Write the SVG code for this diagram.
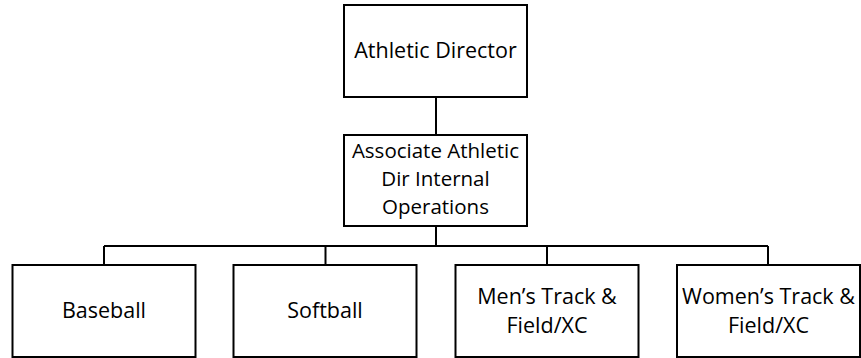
<svg xmlns="http://www.w3.org/2000/svg" width="861" height="358" viewBox="0 0 861 358">
<style>
.box{fill:#fff;stroke:#000;stroke-width:2}
.con{fill:none;stroke:#000;stroke-width:2}
text{font-family:"Open Sans","Noto Sans",sans-serif;font-size:21.5px;fill:#000;text-anchor:middle}
text.m{font-size:20.5px}
</style>
<rect width="861" height="358" fill="#fff"/>
<g id="connectors">
<path class="con" d="M436 97V135M436 226V246M104 246H768M104 246V265M325.5 246V265M547 246V265M768 246V265"/>
</g>
<g id="athletic-director">
<rect class="box" x="344" y="5" width="183" height="92"/>
<text x="435.5" y="58">Athletic Director</text>
</g>
<g id="associate-ad">
<rect class="box" x="344" y="135" width="183" height="91"/>
<text class="m" x="435.5" y="158">Associate Athletic</text>
<text class="m" x="435.5" y="186">Dir Internal</text>
<text class="m" x="435.5" y="214">Operations</text>
</g>
<g id="baseball">
<rect class="box" x="12.5" y="265" width="183" height="92"/>
<text x="104" y="318">Baseball</text>
</g>
<g id="softball">
<rect class="box" x="233.5" y="265" width="183" height="92"/>
<text x="325" y="318">Softball</text>
</g>
<g id="mens-track">
<rect class="box" x="455.5" y="265" width="183" height="92"/>
<text x="547" y="304">Men’s Track &amp;</text>
<text x="547" y="333">Field/XC</text>
</g>
<g id="womens-track">
<rect class="box" x="677" y="265" width="183" height="92"/>
<text x="768.5" y="304">Women’s Track &amp;</text>
<text x="768.5" y="333">Field/XC</text>
</g>
</svg>
